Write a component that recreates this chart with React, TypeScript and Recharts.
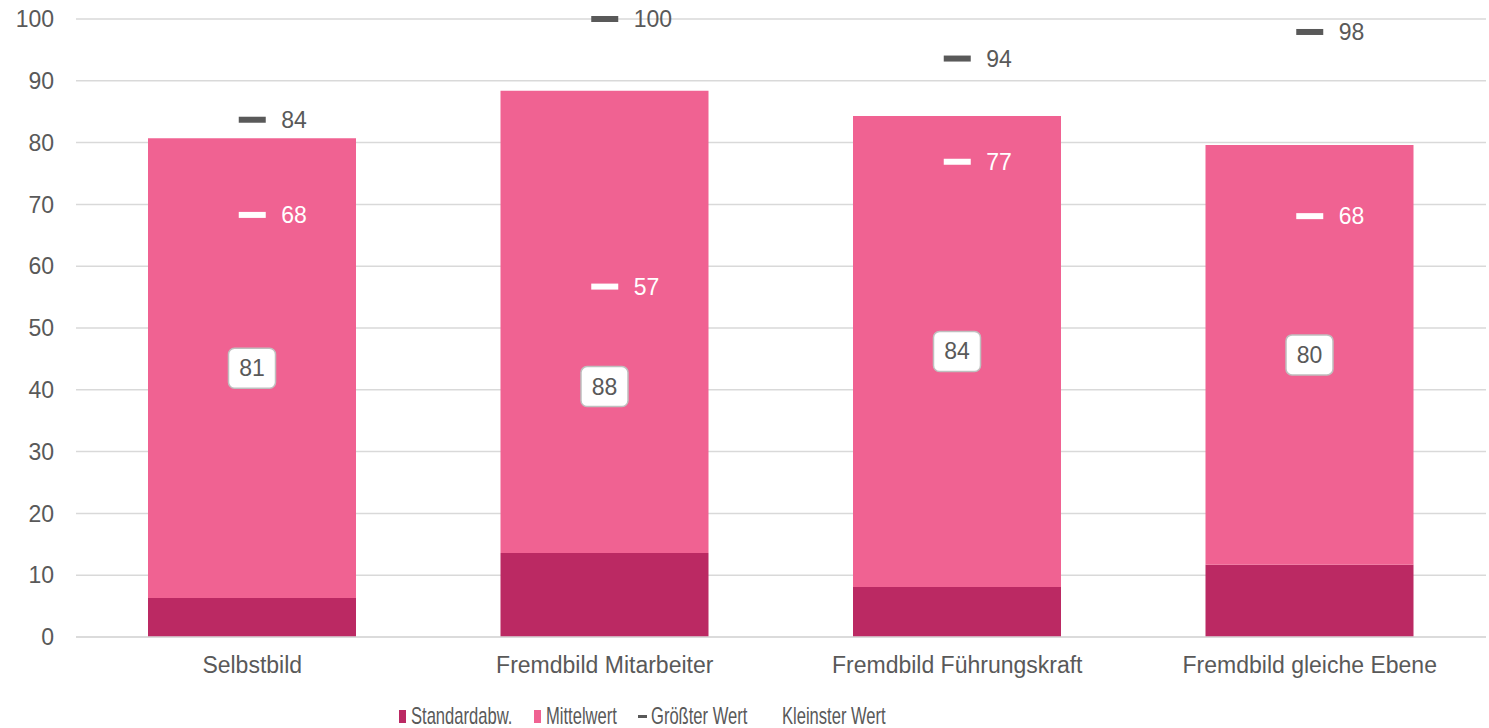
import React from "react"
import {
  Bar,
  CartesianGrid,
  ComposedChart,
  LabelList,
  Legend,
  Line,
  XAxis,
  YAxis,
} from "recharts"

const categories = [
  "Selbstbild",
  "Fremdbild Mitarbeiter",
  "Fremdbild Führungskraft",
  "Fremdbild gleiche Ebene",
]
const stdDev = [6.3, 13.6, 8.1, 11.7]
const mean = [80.7, 88.4, 84.3, 79.6]
const maxValue = [83.7, 100, 93.6, 97.9]
const minValue = [68.3, 56.7, 76.9, 68.1]
const yTicks = [0, 10, 20, 30, 40, 50, 60, 70, 80, 90, 100]

const DARK = "#bb2963"
const PINK = "#f06292"
const GRAY = "#595959"
const GRID = "#d9d9d9"
const FONT = "'Liberation Sans', Arial, sans-serif"

// mean bar is stacked on top of the std dev part
const data = categories.map((name, i) => ({
  name,
  std: stdDev[i],
  rest: mean[i] - stdDev[i],
  mean: mean[i],
  max: maxValue[i],
  min: minValue[i],
}))

const markerDot = (key: "max" | "min", color: string) => (props: any) => {
  const { cx, cy, index, payload } = props
  if (cx == null || cy == null) return <g key={`${key}-${index}`} />
  return (
    <g key={`${key}-${index}`}>
      <rect x={cx - 13.5} y={cy - 3} width={27} height={6} fill={color} />
      <text
        x={cx + 29}
        y={cy}
        dominantBaseline="central"
        fill={color}
        fontSize={23}
        fontFamily={FONT}
      >
        {Math.round(payload[key])}
      </text>
    </g>
  )
}

const MeanLabel = (props: any) => {
  const { x, y, width, height, index } = props
  const d = data[index]
  if (!d) return null
  const cx = x + width / 2
  let cy = y + height / 2
  // move the box below the min marker when they would collide
  const minY = y + (d.mean - d.min) * (height / d.rest)
  if (Math.abs(cy - minY) < 50) cy = minY + 100
  return (
    <g>
      <rect
        x={cx - 23.5}
        y={cy - 20}
        width={47}
        height={40}
        rx={6}
        fill="#fff"
        stroke="#bfbfbf"
        strokeWidth={1.5}
      />
      <text
        x={cx}
        y={cy}
        textAnchor="middle"
        dominantBaseline="central"
        fill={GRAY}
        fontSize={23}
        fontFamily={FONT}
      >
        {Math.round(d.mean)}
      </text>
    </g>
  )
}

const legendItems = [
  { label: "Standardabw.", marker: "square", color: DARK, width: 101 },
  { label: "Mittelwert", marker: "square", color: PINK, width: 70 },
  { label: "Größter Wert", marker: "dash", color: GRAY, width: 96 },
  { label: "Kleinster Wert", marker: "dash", color: "#ffffff", width: 103 },
]

const renderLegend = () => (
  <div
    style={{
      display: "flex",
      alignItems: "center",
      height: 24,
      paddingLeft: 399,
      fontFamily: FONT,
      color: GRAY,
    }}
  >
    {legendItems.map((item) => (
      <div
        key={item.label}
        style={{ display: "flex", alignItems: "center", marginRight: 22 }}
      >
        <span
          style={{
            display: "inline-block",
            width: item.marker === "square" ? 7 : 9,
            height: item.marker === "square" ? 13 : 3,
            background: item.color,
            marginRight: item.marker === "square" ? 5 : 4,
          }}
        />
        <span
          style={{
            display: "inline-block",
            width: item.width,
            whiteSpace: "nowrap",
            fontSize: 24,
            lineHeight: "24px",
          }}
        >
          <span
            style={{
              display: "inline-block",
              transform: "scaleX(0.69)",
              transformOrigin: "left center",
            }}
          >
            {item.label}
          </span>
        </span>
      </div>
    ))}
  </div>
)

export default function App() {
  return (
    <div style={{ position: "absolute", left: 0, top: 0 }}>
      <ComposedChart
        width={1489}
        height={728}
        data={data}
        margin={{ top: 19, right: 3, left: 0, bottom: 0 }}
        style={{ fontFamily: FONT }}
      >
        <CartesianGrid vertical={false} stroke={GRID} strokeWidth={1.5} />
        <XAxis
          dataKey="name"
          height={67}
          tickSize={0}
          tickMargin={20}
          tickLine={false}
          axisLine={{ stroke: GRID, strokeWidth: 1.5 }}
          tick={{ fill: GRAY, fontSize: 23 }}
        />
        <YAxis
          width={76}
          domain={[0, 100]}
          ticks={yTicks}
          tickSize={0}
          tickMargin={22}
          tickLine={false}
          axisLine={false}
          tick={{ fill: GRAY, fontSize: 23 }}
        />
        <Legend
          verticalAlign="bottom"
          content={renderLegend}
          wrapperStyle={{ left: 0, bottom: 0, width: 1489, height: 24 }}
        />
        <Bar
          dataKey="std"
          stackId="a"
          barSize={208}
          fill={DARK}
          isAnimationActive={false}
        />
        <Bar
          dataKey="rest"
          stackId="a"
          barSize={208}
          fill={PINK}
          isAnimationActive={false}
        >
          <LabelList dataKey="mean" content={MeanLabel} />
        </Bar>
        <Line
          dataKey="max"
          stroke="none"
          dot={markerDot("max", GRAY)}
          activeDot={false}
          isAnimationActive={false}
        />
        <Line
          dataKey="min"
          stroke="none"
          dot={markerDot("min", "#ffffff")}
          activeDot={false}
          isAnimationActive={false}
        />
      </ComposedChart>
    </div>
  )
}
